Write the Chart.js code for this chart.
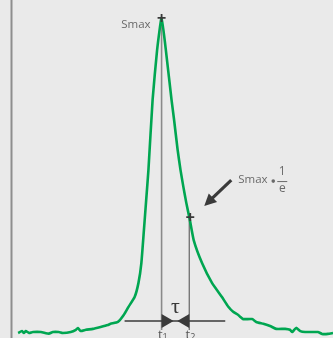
<!DOCTYPE html>
<html>
<head>
<meta charset="utf-8">
<script src="https://cdn.jsdelivr.net/npm/chart.js@4/dist/chart.umd.min.js"></script>
<style>
  html, body { margin: 0; padding: 0; background: #eaeaea; overflow: hidden; }
  #wrap { width: 333px; height: 338px; position: relative; }
</style>
</head>
<body>
<div id="wrap"><canvas id="chart"></canvas></div>
<script>
// sample times (arbitrary units) and normalised signal S(t)
const times = [
  1.9, 3.1, 3.7, 4.3, 5.3, 6.5, 9.0, 11.5, 12.7, 14.6, 15.8, 18.3, 19.9, 20.5, 21.4,
  23.0, 25.2, 27.6, 29.8, 30.7, 33.0, 34.8, 36.3, 38.2, 39.4, 40.3, 41.1, 41.8, 42.5,
  43.8, 45.2, 46.6, 48.1, 49.7, 50.5, 51.6, 52.5, 53.4, 54.3, 55.4, 56.6, 59.2, 62.3,
  65.4, 67.4, 68.9, 70.5, 71.1, 72.0, 74.8, 76.1, 78.3, 80.4, 82.3, 85.1, 86.6, 87.3,
  88.5, 89.8, 91.3, 95.3, 96.6, 98.4, 100
];
const signal = [
  0.000, 0.006, 0.000, 0.006, 0.000, 0.003, 0.003, -0.002, 0.003, 0.003, 0.000, 0.003, 0.010, 0.016, 0.006,
  0.010, 0.013, 0.019, 0.025, 0.029, 0.035, 0.057, 0.083, 0.114, 0.159, 0.222, 0.327, 0.422, 0.517,
  0.740, 0.898, 1.000, 0.883, 0.740, 0.676, 0.581, 0.517, 0.463, 0.413, 0.359, 0.295, 0.222, 0.159,
  0.114, 0.083, 0.067, 0.057, 0.051, 0.044, 0.044, 0.035, 0.029, 0.022, 0.013, 0.013, 0.010, 0.003,
  0.016, 0.006, 0.003, 0.003, -0.003, -0.003, 0.000
];
const dimLevel = 0.038;   // height of the tau dimension line

const GREEN = '#00a651';
const DARK = '#3a3a3a';
const GREY_TXT = '#6a6a6a';

// background + left axis
const backdrop = {
  id: 'backdrop',
  beforeDraw(chart) {
    const { ctx, width, height, chartArea } = chart;
    ctx.save();
    ctx.fillStyle = '#eaeaea';
    ctx.fillRect(0, 0, width, height);
    ctx.strokeStyle = '#8e8e8e';
    ctx.lineWidth = 2;
    ctx.beginPath();
    ctx.moveTo(chartArea.left - 0.5, 0);
    ctx.lineTo(chartArea.left - 0.5, height);
    ctx.stroke();
    ctx.restore();
  }
};

function findMarks() {
  let iMax = 0;
  signal.forEach((v, i) => { if (v > signal[iMax]) iMax = i; });
  const t1 = times[iMax];
  const sMax = signal[iMax];
  const target = sMax / Math.E;
  let t2 = t1;
  for (let i = iMax; i < signal.length - 1; i++) {
    if (signal[i] >= target && signal[i + 1] < target) {
      t2 = times[i] + (signal[i] - target) / (signal[i] - signal[i + 1]) * (times[i + 1] - times[i]);
      break;
    }
  }
  return { t1, t2, sMax, target };
}

function plus(ctx, x, y) {
  ctx.beginPath();
  ctx.moveTo(x - 4, y); ctx.lineTo(x + 4, y);
  ctx.moveTo(x, y - 4); ctx.lineTo(x, y + 4);
  ctx.stroke();
}

const guides = {
  id: 'guides',
  beforeDatasetsDraw(chart) {
    const { ctx, scales: { x, y } } = chart;
    const m = findMarks();
    const x1 = x.getPixelForValue(m.t1), x2 = x.getPixelForValue(m.t2);
    const yBase = y.getPixelForValue(0) - 3;
    ctx.save();
    ctx.strokeStyle = '#8a8a8a';
    ctx.lineWidth = 1.6;
    ctx.beginPath();
    ctx.moveTo(x1, y.getPixelForValue(m.sMax));
    ctx.lineTo(x1, yBase);
    ctx.stroke();
    ctx.strokeStyle = '#666';
    ctx.lineWidth = 1.2;
    ctx.beginPath();
    ctx.moveTo(x2, y.getPixelForValue(m.target));
    ctx.lineTo(x2, yBase);
    ctx.stroke();
    ctx.restore();
  },
  afterDatasetsDraw(chart) {
    const { ctx, scales: { x, y } } = chart;
    const m = findMarks();
    const x1 = x.getPixelForValue(m.t1), x2 = x.getPixelForValue(m.t2);
    const yPeak = y.getPixelForValue(m.sMax), yE = y.getPixelForValue(m.target);
    const yd = y.getPixelForValue(dimLevel);
    ctx.save();

    // dimension line with inward arrows
    ctx.strokeStyle = DARK;
    ctx.lineWidth = 1.3;
    ctx.beginPath();
    ctx.moveTo(x1 - 37, yd); ctx.lineTo(x2 + 36, yd);
    ctx.stroke();
    ctx.fillStyle = DARK;
    ctx.beginPath();
    ctx.moveTo(x1, yd - 7); ctx.lineTo(x1 + 12, yd); ctx.lineTo(x1, yd + 7); ctx.closePath();
    ctx.fill();
    ctx.beginPath();
    ctx.moveTo(x2, yd - 7); ctx.lineTo(x2 - 12, yd); ctx.lineTo(x2, yd + 7); ctx.closePath();
    ctx.fill();

    // tau
    ctx.font = '22px "Liberation Serif"';
    ctx.textAlign = 'center';
    ctx.textBaseline = 'alphabetic';
    ctx.fillText('τ', (x1 + x2) / 2, yd - 8);

    // t1, t2
    ctx.fillStyle = '#555';
    ctx.textBaseline = 'top';
    [[x1, '1'], [x2, '2']].forEach(([px, sub]) => {
      ctx.textAlign = 'right';
      ctx.font = '13px "Open Sans"';
      ctx.fillText('t', px + 1, 329);
      ctx.textAlign = 'left';
      ctx.font = '9px "Open Sans"';
      ctx.fillText(sub, px + 1, 333);
    });

    // plus markers
    ctx.strokeStyle = DARK;
    ctx.lineWidth = 1.8;
    plus(ctx, x1, yPeak);
    plus(ctx, x2 + 1, yE);

    // Smax label
    ctx.fillStyle = GREY_TXT;
    ctx.font = '11.5px "Open Sans"';
    ctx.textAlign = 'right';
    ctx.textBaseline = 'middle';
    ctx.fillText('Smax', x1 - 11, yPeak + 7);

    // arrow to the 1/e point
    const ax = x2 + 42, ay = yE - 37, bx = x2 + 15, by = yE - 11;
    ctx.strokeStyle = DARK;
    ctx.lineWidth = 3.2;
    ctx.beginPath();
    ctx.moveTo(ax, ay); ctx.lineTo(bx + 6, by - 6);
    ctx.stroke();
    const ang = Math.atan2(by - ay, bx - ax);
    ctx.fillStyle = DARK;
    ctx.beginPath();
    ctx.moveTo(bx, by);
    ctx.lineTo(bx - 12 * Math.cos(ang) + 6 * Math.sin(ang), by - 12 * Math.sin(ang) - 6 * Math.cos(ang));
    ctx.lineTo(bx - 12 * Math.cos(ang) - 6 * Math.sin(ang), by - 12 * Math.sin(ang) + 6 * Math.cos(ang));
    ctx.closePath();
    ctx.fill();

    // Smax · 1/e label
    ctx.fillStyle = GREY_TXT;
    ctx.font = '11.5px "Open Sans"';
    ctx.textAlign = 'left';
    ctx.textBaseline = 'middle';
    const lx = x2 + 49, ly = yE - 37;
    ctx.fillText('Smax', lx, ly);
    ctx.beginPath();
    ctx.arc(lx + 35, ly + 1, 1.8, 0, Math.PI * 2);
    ctx.fill();
    ctx.textAlign = 'center';
    ctx.font = '12px "Open Sans"';
    ctx.fillText('1', lx + 44, ly - 8);
    ctx.fillText('e', lx + 44, ly + 9);
    ctx.strokeStyle = GREY_TXT;
    ctx.lineWidth = 1;
    ctx.beginPath();
    ctx.moveTo(lx + 39, ly + 1.5); ctx.lineTo(lx + 49, ly + 1.5);
    ctx.stroke();

    ctx.restore();
  }
};

new Chart(document.getElementById('chart'), {
  type: 'line',
  data: {
    datasets: [{
      data: times.map((t, i) => ({ x: t, y: signal[i] })),
      borderColor: GREEN,
      borderWidth: 2.6,
      pointRadius: 0,
      tension: 0.15,
      fill: false
    }]
  },
  options: {
    responsive: true,
    maintainAspectRatio: false,
    animation: false,
    layout: { padding: { left: 12, right: 0, top: 0, bottom: 0 } },
    plugins: { legend: { display: false }, tooltip: { enabled: false } },
    scales: {
      x: { type: 'linear', min: 0, max: 100, display: false },
      y: { min: -0.016, max: 1.057, display: false }
    }
  },
  plugins: [backdrop, guides]
});
</script>
</body>
</html>
